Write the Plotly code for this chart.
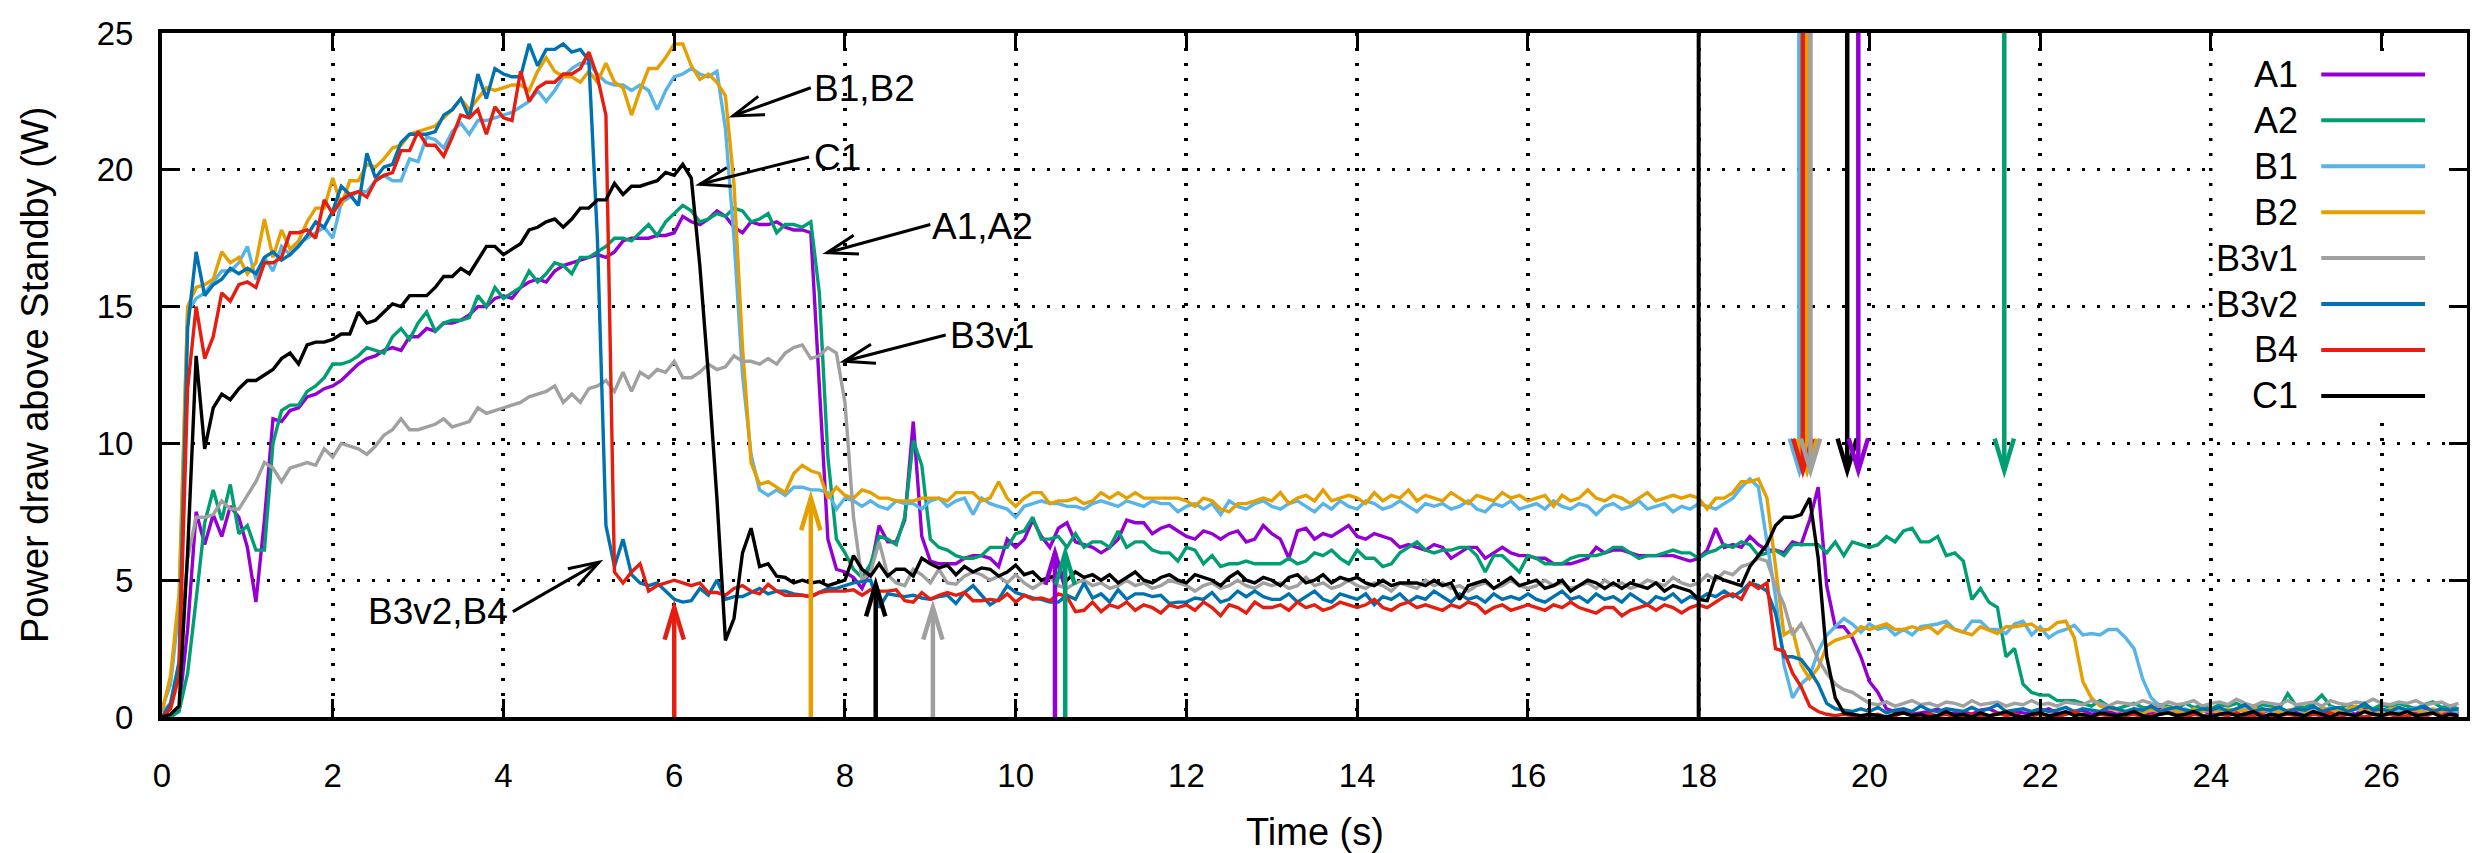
import math
import plotly.graph_objects as go

# ---------------- data (sampled every 0.1 s, t = 0.0 ... 26.9) ----------------
SAMPLE_STEP = 0.1

A1 = [
    0.0, 0.0, 0.3, 3.2, 7.5, 6.3, 7.4, 6.6, 7.7, 7.3,
    6.2, 4.2, 7.2, 10.9, 10.8, 11.2, 11.3, 11.7, 11.8, 12.0,
    12.1, 12.3, 12.6, 12.9, 13.1, 13.2, 13.4, 13.5, 13.4, 13.9,
    13.9, 14.2, 14.1, 14.4, 14.4, 14.5, 14.7, 15.0, 15.0, 15.3,
    15.4, 15.3, 15.7, 15.9, 16.0, 15.9, 16.3, 16.5, 16.6, 16.7,
    16.8, 16.9, 16.8, 17.0, 17.4, 17.5, 17.5, 17.5, 17.6, 17.6,
    17.7, 18.3, 18.1, 18.0, 18.2, 18.5, 18.3, 17.9, 17.7, 18.1,
    18.0, 18.0, 18.1, 17.9, 17.8, 17.8, 17.7, 12.0, 6.5, 5.4,
    5.3, 5.1, 4.7, 5.4, 7.0, 6.4, 6.4, 7.2, 10.8, 6.6,
    5.7, 5.6, 5.6, 5.6, 5.8, 5.9, 5.9, 5.8, 5.5, 6.5,
    6.2, 6.5, 7.2, 6.6, 6.2, 6.9, 7.1, 6.4, 6.3, 6.2,
    6.0, 6.2, 6.5, 7.2, 7.1, 7.1, 6.7, 6.9, 7.0, 6.8,
    6.6, 6.5, 6.8, 6.7, 6.5, 6.7, 6.8, 6.4, 6.5, 7.0,
    6.7, 6.5, 5.8, 6.8, 6.9, 6.5, 6.7, 6.6, 6.8, 7.0,
    6.6, 6.5, 6.7, 6.6, 6.5, 6.2, 6.3, 6.2, 6.1, 6.3,
    6.2, 5.8, 6.0, 6.2, 6.2, 5.8, 6.0, 6.2, 6.0, 5.9,
    5.9, 5.8, 5.8, 5.6, 5.6, 5.6, 5.7, 5.8, 6.2, 6.0,
    6.1, 6.1, 6.0, 5.9, 5.9, 5.9, 5.9, 5.9, 5.8, 5.7,
    5.8, 6.1, 6.9, 6.2, 6.3, 6.2, 6.6, 6.3, 6.1, 6.1,
    6.0, 6.4, 6.3, 7.2, 8.4, 4.8, 3.3, 3.3, 2.9, 2.2,
    1.3, 0.9, 0.3, 0.2, 0.25, 0.1, 0.15, 0.2, 0.3, 0.1,
    0.15, 0.2, 0.1, 0.25, 0.3, 0.15, 0.1, 0.2, 0.15, 0.1,
    0.2, 0.3, 0.15, 0.1, 0.2, 0.25, 0.1, 0.15, 0.2, 0.1,
    0.15, 0.25, 0.2, 0.1, 0.3, 0.2, 0.15, 0.1, 0.2, 0.25,
    0.1, 0.2, 0.15, 0.3, 0.2, 0.1, 0.25, 0.15, 0.2, 0.1,
    0.2, 0.15, 0.3, 0.1, 0.2, 0.25, 0.15, 0.1, 0.35, 0.2,
    0.15, 0.2, 0.1, 0.25, 0.2, 0.3, 0.15, 0.2, 0.1, 0.2,
]

A2 = [
    0.0, 0.0, 0.2, 1.6, 4.3, 7.1, 8.3, 7.2, 8.5, 6.7,
    7.0, 6.1, 6.1, 10.0, 11.2, 11.4, 11.4, 11.9, 12.1, 12.4,
    12.9, 12.9, 13.0, 13.2, 13.5, 13.4, 13.3, 13.9, 14.2, 13.8,
    14.4, 14.8, 14.1, 14.4, 14.5, 14.5, 14.6, 15.4, 15.0, 15.7,
    15.3, 15.5, 15.7, 16.3, 15.9, 16.2, 16.6, 16.5, 16.2, 16.8,
    16.8, 17.0, 17.2, 17.5, 17.5, 17.4, 17.7, 18.0, 17.6, 18.1,
    18.4, 18.7, 18.5, 18.1, 18.2, 18.4, 18.3, 18.6, 18.5, 18.1,
    18.2, 18.4, 17.7, 18.0, 18.0, 17.9, 18.1, 15.5, 9.5, 6.5,
    6.0, 5.4, 5.1, 5.6, 6.6, 6.5, 6.3, 7.3, 10.1, 9.2,
    6.5, 6.2, 6.1, 5.9, 5.8, 5.8, 5.9, 6.2, 6.2, 6.2,
    6.7, 6.8, 7.3, 6.5, 6.5, 6.6, 6.2, 6.7, 6.2, 6.4,
    6.4, 6.2, 6.8, 6.2, 6.4, 6.4, 6.1, 6.0, 6.0, 5.7,
    6.2, 6.1, 5.6, 5.9, 5.5, 5.6, 5.6, 5.7, 5.6, 5.6,
    5.6, 5.6, 5.8, 5.6, 5.7, 6.0, 5.9, 6.1, 5.8, 5.6,
    6.1, 5.8, 5.8, 5.5, 5.6, 6.0, 6.2, 6.4, 6.1, 6.0,
    6.1, 6.1, 6.2, 6.2, 5.9, 5.3, 5.9, 5.9, 5.6, 5.3,
    5.9, 5.8, 5.6, 5.6, 5.6, 5.8, 5.9, 5.9, 5.9, 6.0,
    6.2, 6.2, 6.0, 5.8, 5.9, 5.9, 6.0, 6.1, 6.0, 6.0,
    5.8, 6.0, 6.1, 6.3, 6.2, 6.4, 6.3, 5.9, 6.0, 6.1,
    5.9, 6.3, 6.3, 6.3, 6.3, 6.0, 6.4, 5.9, 6.4, 6.3,
    6.2, 6.3, 6.6, 6.4, 6.8, 6.9, 6.4, 6.4, 6.6, 5.9,
    6.0, 5.7, 4.3, 4.7, 4.2, 4.0, 2.2, 2.5, 1.2, 0.9,
    0.8, 0.8, 0.6, 0.6, 0.6, 0.5, 0.4, 0.6, 0.4, 0.3,
    0.4, 0.5, 0.35, 0.3, 0.45, 0.4, 0.3, 0.5, 0.35, 0.4,
    0.3, 0.45, 0.4, 0.5, 0.35, 0.3, 0.45, 0.4, 0.3, 0.85,
    0.4, 0.35, 0.5, 0.8, 0.4, 0.3, 0.45, 0.35, 0.4, 0.3,
    0.45, 0.35, 0.5, 0.4, 0.3, 0.45, 0.55, 0.35, 0.4, 0.3,
]

B1 = [
    0.3, 1.2, 4.0, 14.8, 15.3, 15.5, 15.9, 16.3, 16.3, 16.6,
    17.2, 16.0, 16.8, 16.3, 17.2, 16.9, 17.3, 17.5, 17.7, 17.9,
    17.5, 18.8, 19.0, 19.2, 19.2, 19.6, 19.8, 19.6, 19.6, 20.4,
    20.3, 21.2, 21.1, 20.8, 21.4, 21.7, 21.3, 21.8, 21.8, 21.9,
    22.0, 22.1, 22.3, 22.5, 22.9, 22.5, 22.9, 23.4, 23.7, 23.9,
    23.9, 23.5, 23.2, 23.1, 23.1, 22.9, 23.1, 22.9, 22.2, 22.9,
    23.4, 23.5, 23.7, 23.5, 23.4, 23.6, 21.5, 17.5, 12.5, 9.6,
    8.3, 8.1, 8.3, 8.1, 8.4, 8.4, 8.3, 8.3, 8.2, 7.6,
    8.0, 7.9, 7.7, 7.9, 7.7, 7.6, 7.9, 7.8, 7.8, 7.6,
    7.9, 8.0, 7.7, 7.9, 8.0, 7.4, 8.0, 7.8, 7.7, 7.6,
    7.3, 7.7, 7.8, 7.9, 7.8, 7.8, 7.7, 7.7, 7.6, 7.8,
    7.9, 7.8, 7.7, 7.9, 7.8, 7.7, 7.9, 7.8, 7.8, 7.5,
    7.7, 7.8, 7.6, 7.8, 7.4, 7.9, 7.7, 7.6, 7.8, 7.9,
    7.7, 7.6, 7.8, 7.9, 7.7, 7.5, 7.8, 7.6, 7.9, 7.7,
    7.6, 7.9, 7.8, 7.6, 7.7, 7.9, 7.7, 7.5, 7.8, 7.7,
    7.8, 7.6, 7.7, 7.9, 7.6, 7.5, 7.8, 7.7, 7.9, 7.6,
    7.7, 7.8, 7.6, 7.9, 7.7, 7.6, 7.8, 7.7, 7.4, 7.7,
    7.8, 7.6, 7.7, 7.9, 7.6, 7.7, 7.8, 7.5, 7.7, 7.6,
    7.8, 7.7, 7.6, 7.8, 8.0, 8.4, 8.7, 8.4, 6.4, 4.4,
    1.9, 0.7, 1.2, 1.5, 2.4, 3.0, 3.3, 3.6, 3.4, 3.1,
    3.4, 3.2, 3.3, 3.0, 3.2, 3.0, 3.3, 3.35, 3.4, 3.5,
    3.2, 3.1, 3.5, 3.5, 3.2, 3.2, 3.05, 3.4, 3.5, 3.0,
    3.3, 2.9, 3.1, 3.2, 3.35, 3.0, 3.05, 3.0, 3.2, 3.2,
    2.9, 2.5, 1.4, 0.7, 0.4, 0.3, 0.2, 0.3, 0.15, 0.25,
    0.2, 0.3, 0.15, 0.25, 0.35, 0.2, 0.3, 0.15, 0.25, 0.2,
    0.3, 0.15, 0.25, 0.2, 0.35, 0.2, 0.15, 0.3, 0.2, 0.25,
    0.15, 0.3, 0.2, 0.25, 0.35, 0.2, 0.15, 0.3, 0.25, 0.2,
]

B2 = [
    0.2, 1.5, 4.5, 15.0, 15.7, 15.8, 16.0, 17.0, 16.6, 16.8,
    16.2, 16.6, 18.2, 16.8, 17.8, 17.1, 17.4, 18.1, 18.6, 18.6,
    19.7, 18.7, 19.6, 19.6, 20.2, 20.1, 20.4, 20.8, 20.9, 21.3,
    21.4, 21.5, 21.6, 21.9, 22.2, 22.6, 22.2, 22.6, 23.0, 22.9,
    23.0, 23.1, 23.1, 22.9, 23.6, 24.1, 23.6, 23.4, 23.4, 23.2,
    23.6, 23.2, 23.9, 23.2, 23.0, 22.0, 22.9, 23.7, 23.7, 24.1,
    24.6, 24.6, 23.8, 23.3, 23.5, 23.2, 22.7, 19.5, 13.5, 9.3,
    8.5, 8.6, 8.4, 8.2, 8.9, 9.2, 9.0, 8.9, 8.0, 8.4,
    8.1, 8.0, 8.3, 8.2, 8.0, 8.0, 7.9, 7.9, 7.9, 8.0,
    8.0, 8.0, 7.9, 8.2, 8.2, 8.2, 7.9, 8.0, 8.6, 8.0,
    7.7, 8.0, 8.2, 8.2, 7.8, 7.9, 7.9, 8.0, 7.8, 7.9,
    8.2, 8.0, 8.2, 8.0, 8.2, 8.0, 8.0, 8.0, 8.0, 8.0,
    7.9, 7.7, 8.0, 7.9, 7.6, 7.5, 7.8, 7.8, 7.9, 8.0,
    7.9, 8.2, 7.8, 8.0, 8.1, 7.9, 8.3, 7.9, 8.0, 8.1,
    8.0, 7.8, 8.2, 7.9, 8.1, 8.0, 8.3, 7.9, 8.1, 8.0,
    7.9, 8.2, 8.0, 7.8, 8.1, 8.0, 7.9, 8.2, 8.0, 8.1,
    7.9, 8.0, 8.1, 7.7, 8.1, 7.9, 8.0, 8.3, 8.0, 7.9,
    8.1, 8.0, 7.8, 8.0, 8.2, 7.9, 8.0, 8.1, 8.0, 8.1,
    8.0, 7.6, 8.0, 8.0, 8.2, 8.6, 8.6, 8.7, 8.0, 5.5,
    3.0, 3.2, 1.9, 1.4, 1.8, 2.6, 2.8, 2.9, 3.0, 3.3,
    3.2, 3.3, 3.4, 3.2, 3.2, 3.3, 3.2, 3.3, 3.05, 3.35,
    3.2, 3.1, 3.0, 3.3, 3.17, 3.05, 3.3, 3.3, 3.35, 3.4,
    3.17, 3.2, 3.45, 3.5, 2.9, 1.3, 0.7, 0.4, 0.3, 0.25,
    0.2, 0.3, 0.15, 0.25, 0.2, 0.35, 0.2, 0.15, 0.3, 0.2,
    0.25, 0.15, 0.3, 0.2, 0.25, 0.35, 0.2, 0.3, 0.15, 0.25,
    0.3, 0.2, 0.15, 0.35, 0.25, 0.2, 0.3, 0.4, 0.2, 0.25,
    0.2, 0.3, 0.35, 0.2, 0.25, 0.15, 0.3, 0.2, 0.25, 0.3,
]

B3V1 = [
    0.2, 0.5, 2.0, 5.8, 7.3, 7.3, 7.4, 7.9, 7.6, 7.6,
    8.1, 8.6, 9.3, 9.1, 8.6, 9.1, 9.2, 9.3, 9.2, 9.8,
    9.5, 10.0, 9.9, 9.8, 9.6, 9.9, 10.3, 10.5, 10.9, 10.5,
    10.5, 10.6, 10.7, 10.9, 10.6, 10.7, 10.8, 11.3, 11.1, 11.2,
    11.3, 11.4, 11.5, 11.7, 11.8, 11.9, 12.1, 11.5, 11.8, 11.5,
    12.0, 12.1, 12.3, 11.9, 12.6, 11.9, 12.6, 12.4, 12.7, 12.6,
    13.0, 12.4, 12.4, 12.6, 12.9, 12.7, 12.8, 13.2, 13.0, 13.0,
    12.9, 13.1, 12.9, 13.3, 13.5, 13.6, 13.1, 13.2, 13.5, 13.3,
    11.5, 7.3, 5.0, 5.3, 6.4, 5.2, 4.9, 4.8, 5.4, 5.2,
    4.9, 5.4, 4.9, 4.85, 5.15, 5.3, 5.2, 5.0, 5.15, 4.9,
    5.2, 4.9, 4.7, 4.9, 5.1, 4.8, 4.7, 4.9, 5.0, 4.8,
    4.9, 4.7, 4.8, 5.0, 4.8, 4.9, 4.7, 4.8, 5.0, 4.9,
    4.8, 4.6, 4.8, 4.9, 4.7, 4.8, 5.0, 4.8, 4.7, 4.9,
    4.8, 4.9, 4.7, 4.8, 5.1, 4.8, 4.9, 4.7, 4.8, 5.0,
    4.8, 4.7, 4.9, 4.8, 4.6, 4.9, 4.8, 4.7, 5.0, 4.8,
    4.9, 4.7, 4.8, 4.6, 4.8, 4.9, 4.7, 4.8, 5.0, 4.8,
    4.7, 4.8, 5.0, 4.8, 4.9, 4.7, 4.8, 4.9, 4.7, 5.0,
    4.8, 4.9, 4.7, 4.8, 5.0, 4.9, 4.8, 5.1, 4.9, 4.8,
    4.9, 5.2, 5.0, 5.3, 5.2, 5.5, 5.6, 5.8, 5.7, 4.8,
    4.1, 3.0, 3.4, 2.8, 2.1, 1.6, 1.2, 1.0, 0.9, 0.7,
    0.5, 0.45, 0.55, 0.4, 0.5, 0.6, 0.45, 0.5, 0.4, 0.55,
    0.5, 0.4, 0.6, 0.45, 0.5, 0.55, 0.4, 0.5, 0.45, 0.6,
    0.45, 0.5, 0.4, 0.55, 0.5, 0.45, 0.6, 0.5, 0.4, 0.55,
    0.5, 0.45, 0.6, 0.5, 0.4, 0.55, 0.45, 0.5, 0.6, 0.4,
    0.5, 0.55, 0.45, 0.65, 0.5, 0.4, 0.55, 0.5, 0.45, 0.6,
    0.45, 0.5, 0.55, 0.4, 0.6, 0.5, 0.45, 0.55, 0.5, 0.65,
    0.5, 0.45, 0.55, 0.5, 0.6, 0.45, 0.5, 0.55, 0.4, 0.5,
]

B3V2 = [
    0.0, 0.5, 2.0, 14.2, 17.0, 15.4, 15.8, 16.0, 16.4, 16.2,
    16.4, 16.2, 16.8, 17.0, 16.7, 16.9, 17.2, 17.6, 18.1, 17.9,
    18.5, 19.4, 19.1, 18.7, 20.6, 19.7, 20.1, 20.2, 21.0, 21.3,
    21.3, 21.3, 21.4, 22.0, 22.2, 22.6, 21.9, 23.5, 22.6, 23.7,
    23.5, 23.4, 23.4, 24.6, 23.8, 24.4, 24.4, 24.6, 24.3, 24.4,
    24.0, 17.5, 7.0, 5.5, 6.5, 5.2, 4.9, 4.8, 4.9, 4.6,
    4.3, 4.2, 4.25, 4.7, 4.45, 5.0, 4.3, 4.4, 4.4, 4.55,
    4.7, 4.5, 4.6, 4.6, 4.5, 4.45, 4.4, 4.55, 4.7, 4.7,
    4.8, 4.9, 4.95, 5.0, 4.0, 4.5, 4.45, 4.4, 4.45, 4.35,
    4.3, 4.4, 4.45, 4.15, 4.55, 4.8, 4.45, 4.1, 4.3, 4.8,
    4.55, 4.45, 4.35, 4.3, 4.2, 4.2, 4.45, 4.3, 4.9, 4.35,
    4.5, 4.2, 4.65, 4.3, 4.5, 4.5, 4.4, 4.45, 4.15, 4.2,
    4.2, 4.35, 4.3, 4.55, 4.2, 4.3, 4.6, 4.4, 4.6, 4.4,
    4.3, 4.3, 4.5, 4.2, 4.4, 4.6, 4.3, 4.2, 4.5, 4.4,
    4.3, 4.5, 4.1, 4.4, 4.3, 4.5, 4.2, 4.4, 4.3, 4.6,
    4.4, 4.2, 4.5, 4.3, 4.4, 4.2, 4.5, 4.3, 4.4, 4.3,
    4.5, 4.3, 4.2, 4.4, 4.6, 4.3, 4.4, 4.2, 4.5, 4.3,
    4.4, 4.2, 4.5, 4.3, 4.1, 4.4, 4.3, 4.5, 4.2, 4.4,
    4.3, 4.5, 4.4, 4.6, 4.4, 4.6, 4.9, 4.8, 4.6, 3.8,
    2.2, 2.2, 2.1, 1.7, 1.2, 0.5, 0.3, 0.25, 0.2, 0.3,
    0.2, 0.35, 0.15, 0.25, 0.3, 0.2, 0.4, 0.25, 0.2, 0.3,
    0.25, 0.2, 0.35, 0.2, 0.3, 0.45, 0.2, 0.25, 0.3, 0.2,
    0.3, 0.2, 0.25, 0.35, 0.2, 0.3, 0.25, 0.2, 0.35, 0.3,
    0.2, 0.3, 0.25, 0.4, 0.2, 0.3, 0.35, 0.25, 0.2, 0.3,
    0.25, 0.35, 0.2, 0.3, 0.45, 0.2, 0.3, 0.25, 0.35, 0.2,
    0.3, 0.25, 0.4, 0.2, 0.3, 0.35, 0.2, 0.3, 0.5, 0.25,
    0.3, 0.2, 0.35, 0.25, 0.3, 0.4, 0.2, 0.3, 0.25, 0.3,
]

B4 = [
    0.0, 0.3, 1.5, 12.0, 15.0, 13.1, 13.9, 15.5, 15.2, 15.8,
    15.9, 15.7, 16.6, 16.6, 16.8, 17.7, 17.7, 17.8, 17.5, 18.9,
    18.4, 18.9, 19.1, 19.2, 19.0, 19.6, 19.8, 19.9, 20.7, 20.7,
    21.4, 20.9, 20.9, 20.5, 21.2, 22.0, 21.9, 22.2, 21.3, 22.3,
    21.9, 21.8, 23.6, 22.5, 23.0, 23.2, 23.2, 23.5, 23.5, 23.7,
    24.3, 23.4, 22.0, 5.3, 4.9, 5.3, 5.6, 4.6, 4.8, 4.9,
    5.0, 4.9, 4.8, 4.9, 4.55, 4.55, 4.45, 4.7, 4.8, 4.6,
    4.5, 4.85, 4.6, 4.45, 4.45, 4.45, 4.4, 4.55, 4.6, 4.6,
    4.6, 4.65, 4.45, 4.65, 4.6, 4.6, 4.65, 4.25, 4.2, 4.55,
    4.3, 4.45, 4.55, 4.45, 4.55, 4.25, 4.25, 4.3, 4.25, 4.5,
    4.2, 4.45, 4.3, 4.35, 4.25, 4.5, 4.4, 3.85, 3.9, 4.2,
    3.85, 4.1, 4.0, 4.2, 3.9, 4.1, 4.0, 3.8, 4.1, 4.0,
    4.1, 3.9, 4.2, 4.0, 3.7, 4.1, 4.0, 3.8, 4.2, 4.0,
    4.0, 4.1, 3.9, 4.2, 4.0, 4.1, 3.9, 4.0, 4.2, 4.1,
    4.0, 4.1, 4.3, 4.0, 3.9, 4.1, 4.2, 4.0, 4.1, 4.0,
    3.9, 4.1, 4.0, 4.2, 4.1, 3.8, 4.0, 4.1, 3.9, 4.0,
    4.1, 4.0, 3.9, 4.1, 4.0, 4.2, 4.0, 3.9, 3.8, 4.0,
    4.0, 3.7, 3.9, 4.0, 4.1, 3.9, 4.1, 4.0, 3.8, 4.0,
    4.1, 4.0, 4.2, 4.4, 4.5, 4.3, 4.9, 4.7, 4.9, 2.5,
    2.4, 1.6, 1.1, 0.4, 0.2, 0.1, 0.05, 0.1, 0.05, 0.0,
    0.05, 0.1, 0.0, 0.05, 0.15, 0.05, 0.0, 0.1, 0.05, 0.1,
    0.0, 0.05, 0.1, 0.05, 0.0, 0.15, 0.05, 0.1, 0.0, 0.05,
    0.1, 0.05, 0.0, 0.1, 0.2, 0.05, 0.0, 0.1, 0.05, 0.0,
    0.05, 0.1, 0.0, 0.05, 0.1, 0.15, 0.05, 0.0, 0.1, 0.05,
    0.0, 0.1, 0.05, 0.15, 0.0, 0.05, 0.1, 0.0, 0.05, 0.1,
    0.05, 0.0, 0.1, 0.05, 0.15, 0.0, 0.1, 0.05, 0.0, 0.1,
    0.05, 0.1, 0.0, 0.05, 0.1, 0.0, 0.15, 0.05, 0.1, 0.0,
]

C1 = [
    0.0, 0.1, 0.4, 6.0, 13.2, 9.8, 11.3, 11.8, 11.6, 12.0,
    12.3, 12.3, 12.5, 12.7, 13.1, 13.3, 12.9, 13.6, 13.7, 13.7,
    13.8, 14.0, 14.0, 14.8, 14.4, 14.5, 14.8, 15.1, 15.0, 15.4,
    15.4, 15.4, 15.7, 16.1, 16.1, 16.4, 16.2, 16.7, 17.2, 17.2,
    16.9, 17.1, 17.3, 17.8, 17.9, 18.1, 18.2, 17.9, 18.2, 18.6,
    18.6, 18.9, 18.9, 19.5, 19.1, 19.4, 19.4, 19.5, 19.6, 19.9,
    19.8, 20.2, 19.7, 16.5, 12.5, 8.0, 2.8, 3.6, 6.0, 6.9,
    5.5, 5.6, 5.15, 5.1, 4.9, 5.0, 4.9, 4.95, 4.8, 4.9,
    5.0, 5.9, 5.4, 5.15, 5.6, 5.15, 5.4, 5.4, 5.15, 5.8,
    5.6, 5.45, 5.55, 5.2, 5.5, 5.3, 5.45, 5.4, 5.15, 5.3,
    5.55, 5.2, 5.3, 5.0, 5.1, 5.2, 5.0, 5.3, 5.1, 5.2,
    5.0, 5.2, 4.9, 5.1, 5.3, 5.0, 4.9, 5.1, 5.2, 5.0,
    4.9, 5.2, 5.1, 5.0, 4.8, 5.1, 5.3, 5.0, 4.9, 5.1,
    5.0, 4.8, 5.1, 5.2, 4.9, 5.0, 5.2, 4.9, 5.1, 5.0,
    5.1, 4.9, 4.8, 5.0, 4.8, 4.9, 4.9, 4.9, 4.8, 5.0,
    4.8, 4.9, 4.3, 4.8, 4.9, 5.0, 4.7, 4.9, 5.1, 4.8,
    4.9, 5.0, 4.7, 4.8, 5.0, 4.6, 4.8, 5.0, 4.9, 4.7,
    4.9, 4.7, 4.9, 4.8, 4.7, 4.9, 4.6, 4.8, 4.7, 4.6,
    4.3, 4.25, 5.15, 5.0, 4.9, 4.8, 5.5, 5.9, 6.3, 7.0,
    7.3, 7.3, 7.4, 8.0, 5.8, 2.2, 0.7, 0.15, 0.1, 0.05,
    0.1, 0.05, 0.0, 0.1, 0.15, 0.05, 0.1, 0.0, 0.05, 0.2,
    0.05, 0.1, 0.0, 0.15, 0.05, 0.1, 0.2, 0.05, 0.0, 0.1,
    0.15, 0.05, 0.1, 0.2, 0.05, 0.1, 0.0, 0.15, 0.1, 0.05,
    0.1, 0.2, 0.05, 0.0, 0.1, 0.15, 0.05, 0.1, 0.2, 0.05,
    0.0, 0.1, 0.15, 0.05, 0.1, 0.2, 0.0, 0.1, 0.05, 0.15,
    0.1, 0.05, 0.2, 0.1, 0.0, 0.15, 0.1, 0.05, 0.2, 0.1,
    0.05, 0.15, 0.1, 0.2, 0.05, 0.1, 0.15, 0.0, 0.1, 0.05,
]

SERIES_NAMES = ["A1", "A2", "B1", "B2", "B3v1", "B3v2", "B4", "C1"]
SERIES_VALUES = [A1, A2, B1, B2, B3V1, B3V2, B4, C1]

# event arrows: start of run (pointing up) and end of run (pointing down)
START_SERIES = ["B4", "B2", "C1", "B3v1", "A1", "A2"]
START_TIME = [6.0, 7.6, 8.36, 9.03, 10.46, 10.58]
START_LEVEL = [4.0, 8.0, 4.85, 4.0, 6.0, 6.0]

END_SERIES = ["B1", "B2", "B4", "B3v1", "C1", "A1", "A2"]
END_TIME = [19.18, 19.27, 19.22, 19.31, 19.74, 19.87, 21.58]
END_LEVEL = [9.0, 9.0, 9.0, 9.0, 9.0, 9.0, 9.0]

MARK_TIME = [18.0]

# callout labels
CALLOUT_TEXT = ["B1,B2", "C1", "A1,A2", "B3v1", "B3v2,B4"]
CALLOUT_TEXT_X = [7.62, 7.62, 9.01, 9.22, 4.07]
CALLOUT_TEXT_Y = [22.98, 20.46, 17.94, 13.96, 3.85]
CALLOUT_FROM_X = [7.60, 7.58, 9.00, 9.18, 4.11]
CALLOUT_FROM_Y = [23.0, 20.47, 18.0, 13.96, 3.85]
CALLOUT_TO_X = [6.69, 6.30, 7.79, 7.99, 5.12]
CALLOUT_TO_Y = [21.97, 19.47, 16.97, 13.0, 5.66]

X_TICKS = [0, 2, 4, 6, 8, 10, 12, 14, 16, 18, 20, 22, 24, 26]
Y_TICKS = [0, 5, 10, 15, 20, 25]
X_RANGE = [0, 27]
Y_RANGE = [0, 25]

# ---------------- styling / geometry ----------------
COLORS = {
    "A1": "#9400D3", "A2": "#009E73", "B1": "#56B4E9", "B2": "#E69F00",
    "B3v1": "#A0A0A0", "B3v2": "#0072B2", "B4": "#E51E10", "C1": "#000000",
}
FONT = "Liberation Sans, Arial, Helvetica, sans-serif"
PAGE_OFFSET = 8                      # default body margin of the html page
W, H = 2478 - PAGE_OFFSET, 853 - PAGE_OFFSET
PLOT_LEFT, PLOT_TOP = 162, 23        # page pixels
PW, PH = 2309, 694
ML = PLOT_LEFT - PAGE_OFFSET
MT = PLOT_TOP - PAGE_OFFSET
MR = W - ML - PW
MB = H - MT - PH
PX = PW / (X_RANGE[1] - X_RANGE[0])
PY = PH / (Y_RANGE[1] - Y_RANGE[0])


def px_to_paper_x(px):
    return (px - PLOT_LEFT) / PW


def px_to_paper_y(py):
    return (PLOT_TOP + PH - py) / PH


fig = go.Figure()

for name, vals in zip(SERIES_NAMES, SERIES_VALUES):
    assert len(vals) == 270, (name, len(vals))
    t = [round(i * SAMPLE_STEP, 1) for i in range(len(vals))]
    fig.add_trace(go.Scatter(
        x=t, y=vals, mode="lines", name=name, showlegend=False,
        line=dict(color=COLORS[name], width=3.4),
    ))

shapes = []


def arrow(x0, y0, x1, y1, color, width, head_len, half_angle):
    """Arrow from (x0, y0) to tip (x1, y1) with an open V head."""
    shapes.append(dict(type="line", xref="x", yref="y", x0=x0, y0=y0, x1=x1, y1=y1,
                       line=dict(color=color, width=width), layer="above"))
    vx = (x0 - x1) * PX
    vy = (y0 - y1) * PY
    n = math.hypot(vx, vy)
    ux, uy = vx / n, vy / n
    pts = []
    for s in (1, -1):
        a = math.radians(half_angle) * s
        rx = ux * math.cos(a) - uy * math.sin(a)
        ry = ux * math.sin(a) + uy * math.cos(a)
        pts.append((x1 + rx * head_len / PX, y1 + ry * head_len / PY))
    path = "M {:.4f},{:.4f} L {:.4f},{:.4f} L {:.4f},{:.4f}".format(
        pts[0][0], pts[0][1], x1, y1, pts[1][0], pts[1][1])
    shapes.append(dict(type="path", xref="x", yref="y", path=path,
                       line=dict(color=color, width=width), layer="above"))


# vertical marker line
for mt in MARK_TIME:
    shapes.append(dict(type="line", xref="x", yref="y", x0=mt, x1=mt,
                       y0=Y_RANGE[0], y1=Y_RANGE[1],
                       line=dict(color="black", width=4), layer="above"))

for s, t0, lv in zip(START_SERIES, START_TIME, START_LEVEL):
    arrow(t0, Y_RANGE[0], t0, lv, COLORS[s], 4.5, 34, 16.5)

for s, t0, lv in zip(END_SERIES, END_TIME, END_LEVEL):
    arrow(t0, Y_RANGE[1], t0, lv, COLORS[s], 4.5, 34, 16.5)

annotations = []
for txt, tx, ty, fx, fy, px_, py_ in zip(CALLOUT_TEXT, CALLOUT_TEXT_X, CALLOUT_TEXT_Y,
                                         CALLOUT_FROM_X, CALLOUT_FROM_Y,
                                         CALLOUT_TO_X, CALLOUT_TO_Y):
    arrow(fx, fy, px_, py_, "black", 3, 32, 18)
    annotations.append(dict(
        x=tx, y=ty, xref="x", yref="y", text=txt, showarrow=False,
        xanchor="right" if tx < px_ else "left", yanchor="middle",
        font=dict(family=FONT, size=37, color="black"), borderpad=0,
    ))

# key background (hides the grid under the key), then the key itself
shapes.append(dict(type="rect", xref="paper", yref="paper",
                   x0=px_to_paper_x(2216), x1=px_to_paper_x(2450),
                   y0=px_to_paper_y(418), y1=px_to_paper_y(43),
                   fillcolor="white", line=dict(width=0), layer="above"))
for i, name in enumerate(SERIES_NAMES):
    yc = 65 + 46.6 * i
    yp = px_to_paper_y(yc)
    annotations.append(dict(
        x=px_to_paper_x(2303), y=yp, xref="paper", yref="paper", text=name,
        showarrow=False, xanchor="right", yanchor="middle", borderpad=0,
        font=dict(family=FONT, size=36, color="black"),
    ))
    shapes.append(dict(type="line", xref="paper", yref="paper",
                       x0=px_to_paper_x(2325), x1=px_to_paper_x(2429), y0=yp, y1=yp,
                       line=dict(color=COLORS[name], width=4), layer="above"))

# axis titles
annotations.append(dict(
    x=0.5, y=0, xref="paper", yref="paper", text="Time (s)", showarrow=False,
    xanchor="center", yanchor="middle", yshift=-115,
    font=dict(family=FONT, size=38, color="black"),
))
annotations.append(dict(
    x=0, y=0.5, xref="paper", yref="paper", text="Power draw above Standby (W)",
    showarrow=False, xanchor="center", yanchor="middle", xshift=-127, textangle=-90,
    font=dict(family=FONT, size=38, color="black"),
))

axis_common = dict(
    showline=True, linecolor="black", linewidth=4, mirror="ticks",
    ticks="inside", ticklen=18, tickwidth=3, tickcolor="black",
    showgrid=True, gridcolor="black", griddash="3px,12px",
    zeroline=False, ticklabeloverflow="allow",
    tickfont=dict(family=FONT, size=33, color="black"),
)

fig.update_layout(
    width=W, height=H,
    margin=dict(l=ML, r=MR, t=MT, b=MB, pad=0),
    paper_bgcolor="white", plot_bgcolor="white",
    xaxis=dict(range=X_RANGE, tickvals=X_TICKS, ticktext=[str(v) for v in X_TICKS],
               gridwidth=3.5, ticklabelstandoff=26, **axis_common),
    yaxis=dict(range=Y_RANGE, tickvals=Y_TICKS, ticktext=[str(v) for v in Y_TICKS],
               gridwidth=3, ticklabelstandoff=18, **axis_common),
    shapes=shapes, annotations=annotations, showlegend=False,
)

fig.write_html("out.html")
